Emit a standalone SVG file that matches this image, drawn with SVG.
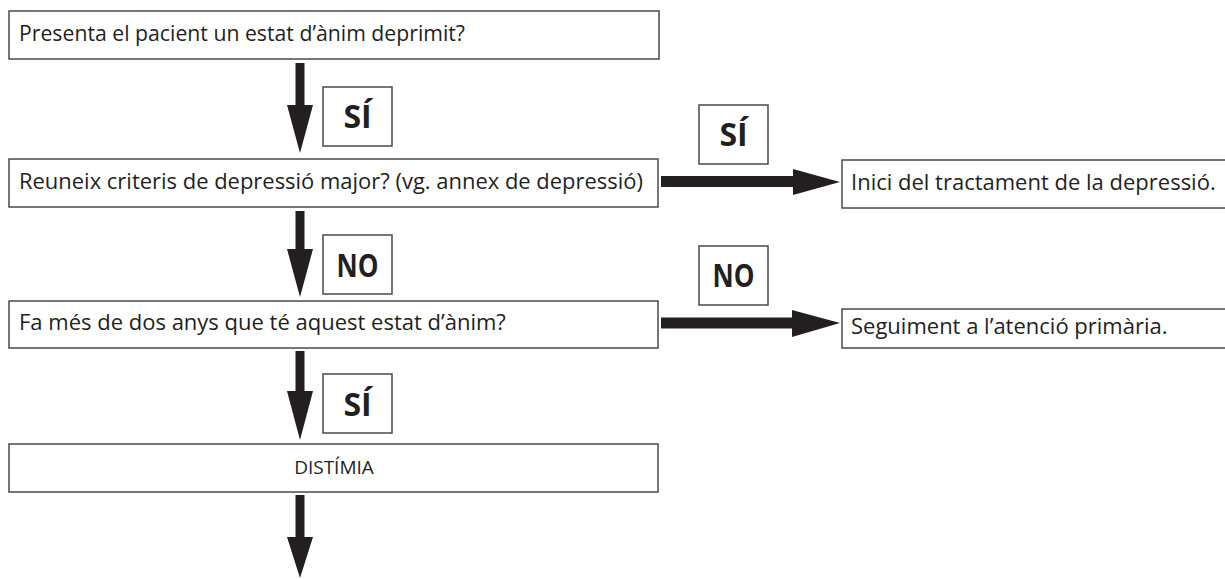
<svg xmlns="http://www.w3.org/2000/svg" width="1225" height="579" viewBox="0 0 1225 579">
  <style>
    .box { fill: #ffffff; stroke: #4a4a4a; stroke-width: 1.5; }
    .txt { font-family: "Open Sans", "Noto Sans", "Liberation Sans", sans-serif; font-size: 22px; fill: #231f20; }
    .small { font-size: 19px; }
    .lbl { font-family: "Open Sans", "Noto Sans", "Liberation Sans", sans-serif; font-size: 32px; font-weight: bold; fill: #231f20; text-anchor: middle; }
    .arrow { fill: #231f20; stroke: none; }
  </style>
  <rect width="1225" height="579" fill="#ffffff"/>

  <!-- connectors -->
  <g id="connectors">
    <!-- vertical flow arrows -->
    <g id="a1"><rect class="arrow" x="295.5" y="63" width="9" height="43"/><polygon class="arrow" points="287,105 313,105 300,153"/></g>
    <g id="a2"><rect class="arrow" x="295.5" y="211" width="9" height="39"/><polygon class="arrow" points="287,249 313,249 300,297"/></g>
    <g id="a3"><rect class="arrow" x="295.5" y="351" width="9" height="41"/><polygon class="arrow" points="287,391 313,391 300,440"/></g>
    <g id="a4"><rect class="arrow" x="295.5" y="495" width="9" height="43"/><polygon class="arrow" points="287,537 313,537 300,578"/></g>
    <!-- horizontal branch arrows -->
    <g id="h1"><rect class="arrow" x="661" y="176" width="133" height="11"/><polygon class="arrow" points="793,169 793,195 840,182"/></g>
    <g id="h2"><rect class="arrow" x="661" y="317.5" width="132" height="11"/><polygon class="arrow" points="792,310 792,337 840,323"/></g>
    <!-- branch labels -->
    <g id="l-si-1"><rect class="box" x="323" y="87" width="69" height="59"/><text class="lbl" x="357.5" y="128">SÍ</text></g>
    <g id="l-no-1"><rect class="box" x="323" y="235" width="69" height="59"/><text class="lbl" x="357.5" y="276.5" textLength="42" lengthAdjust="spacingAndGlyphs">NO</text></g>
    <g id="l-si-2"><rect class="box" x="323" y="374" width="69" height="59"/><text class="lbl" x="357.5" y="415.5">SÍ</text></g>
    <g id="l-si-3"><rect class="box" x="699" y="105" width="69" height="59"/><text class="lbl" x="733.5" y="146">SÍ</text></g>
    <g id="l-no-2"><rect class="box" x="699" y="246" width="69" height="59"/><text class="lbl" x="733.5" y="287" textLength="42" lengthAdjust="spacingAndGlyphs">NO</text></g>
  </g>

  <!-- nodes -->
  <g id="n-deprimit">
    <rect class="box" x="9" y="11" width="650" height="48"/>
    <text class="txt" x="19" y="41" textLength="446" lengthAdjust="spacingAndGlyphs">Presenta el pacient un estat d’ànim deprimit?</text>
  </g>
  <g id="n-criteris">
    <rect class="box" x="9" y="159" width="649" height="48"/>
    <text class="txt" x="19" y="189" textLength="624" lengthAdjust="spacingAndGlyphs">Reuneix criteris de depressió major? (vg. annex de depressió)</text>
  </g>
  <g id="n-tractament">
    <rect class="box" x="842" y="160" width="390" height="48"/>
    <text class="txt" x="851" y="190">Inici del tractament de la depressió.</text>
  </g>
  <g id="n-dos-anys">
    <rect class="box" x="9" y="301" width="649" height="47"/>
    <text class="txt" x="19" y="330">Fa més de dos anys que té aquest estat d’ànim?</text>
  </g>
  <g id="n-seguiment">
    <rect class="box" x="842" y="309" width="390" height="39"/>
    <text class="txt" x="851" y="334">Seguiment a l’atenció primària.</text>
  </g>
  <g id="n-distimia">
    <rect class="box" x="9" y="444" width="649" height="48"/>
    <text class="txt small" x="334" y="474" text-anchor="middle">DISTÍMIA</text>
  </g>
</svg>
